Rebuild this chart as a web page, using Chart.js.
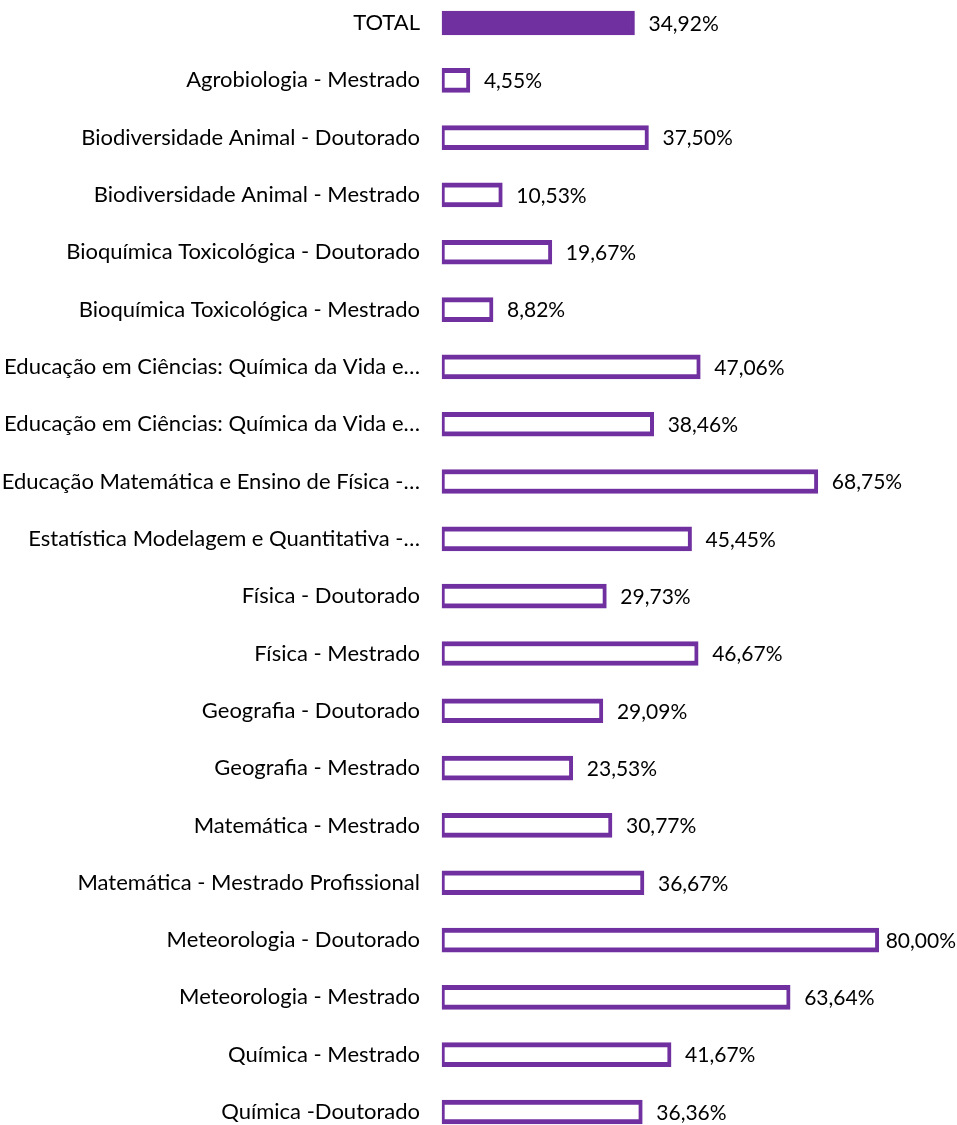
<!DOCTYPE html>
<html>
<head>
<meta charset="utf-8">
<script src="https://cdn.jsdelivr.net/npm/chart.js@4.4.1/dist/chart.umd.min.js"></script>
<style>
  html, body { margin: 0; padding: 0; background: #ffffff; }
  #wrap { width: 957px; height: 1125px; position: relative; }
</style>
</head>
<body>
<div id="wrap"><canvas id="c" width="957" height="1125"></canvas></div>
<script>
const categories = [
  "TOTAL",
  "Agrobiologia - Mestrado",
  "Biodiversidade Animal - Doutorado",
  "Biodiversidade Animal - Mestrado",
  "Bioquímica Toxicológica - Doutorado",
  "Bioquímica Toxicológica - Mestrado",
  "Educação em Ciências: Química da Vida e…",
  "Educação em Ciências: Química da Vida e…",
  "Educação Matemática e Ensino de Física -…",
  "Estatística Modelagem e Quantitativa -…",
  "Física - Doutorado",
  "Física - Mestrado",
  "Geografia - Doutorado",
  "Geografia - Mestrado",
  "Matemática - Mestrado",
  "Matemática - Mestrado Profissional",
  "Meteorologia - Doutorado",
  "Meteorologia - Mestrado",
  "Química - Mestrado",
  "Química -Doutorado"
];
const values = [
  34.92, 4.55, 37.50, 10.53, 19.67, 8.82, 47.06, 38.46, 68.75, 45.45,
  29.73, 46.67, 29.09, 23.53, 30.77, 36.67, 80.00, 63.64, 41.67, 36.36
];
const valueLabels = values.map(v => v.toFixed(2).replace('.', ',') + '%');

const PURPLE = '#7030A0';
const FONT = 'Lato, "Open Sans", sans-serif';
const TICK_SIZE = 22;
const LABEL_SIZE = 21;

const bgColors = categories.map((c, i) => i === 0 ? PURPLE : '#ffffff');

const valueLabelPlugin = {
  id: 'valueLabels',
  afterDatasetsDraw(chart) {
    const ctx = chart.ctx;
    const meta = chart.getDatasetMeta(0);
    ctx.save();
    ctx.font = LABEL_SIZE + 'px ' + FONT;
    ctx.fillStyle = '#000000';
    ctx.textBaseline = 'middle';
    ctx.textAlign = 'left';
    meta.data.forEach((bar, i) => {
      const txt = valueLabels[i];
      const w = ctx.measureText(txt).width;
      let x = bar.x + 14;
      const maxX = chart.width - w - 1;
      if (x > maxX) x = Math.max(bar.x + 2, maxX);
      ctx.fillText(txt, x, bar.y + 1);
    });
    ctx.restore();
  }
};

new Chart(document.getElementById('c'), {
  type: 'bar',
  data: {
    labels: categories,
    datasets: [{
      data: values,
      base: -0.6,
      backgroundColor: bgColors,
      borderColor: PURPLE,
      borderWidth: { top: 5, bottom: 5, left: 3, right: 4 },
      borderSkipped: false,
      barThickness: 24,
      clip: false
    }]
  },
  options: {
    indexAxis: 'y',
    responsive: false,
    animation: false,
    layout: { padding: { top: 23, bottom: 13, left: 0, right: 24 } },
    plugins: {
      legend: { display: false },
      tooltip: { enabled: false },
      title: { display: false }
    },
    scales: {
      x: {
        display: false,
        min: -0.6,
        max: 90
      },
      y: {
        offset: false,
        grid: { display: false, drawTicks: false },
        border: { display: false },
        ticks: {
          padding: 22,
          color: '#000000',
          font: { family: FONT, size: TICK_SIZE },
          autoSkip: false
        },
        afterFit(scale) {
          scale.width = 442;
          scale.paddingTop = 0;
          scale.paddingBottom = 0;
        }
      }
    }
  },
  plugins: [valueLabelPlugin]
});
</script>
</body>
</html>
